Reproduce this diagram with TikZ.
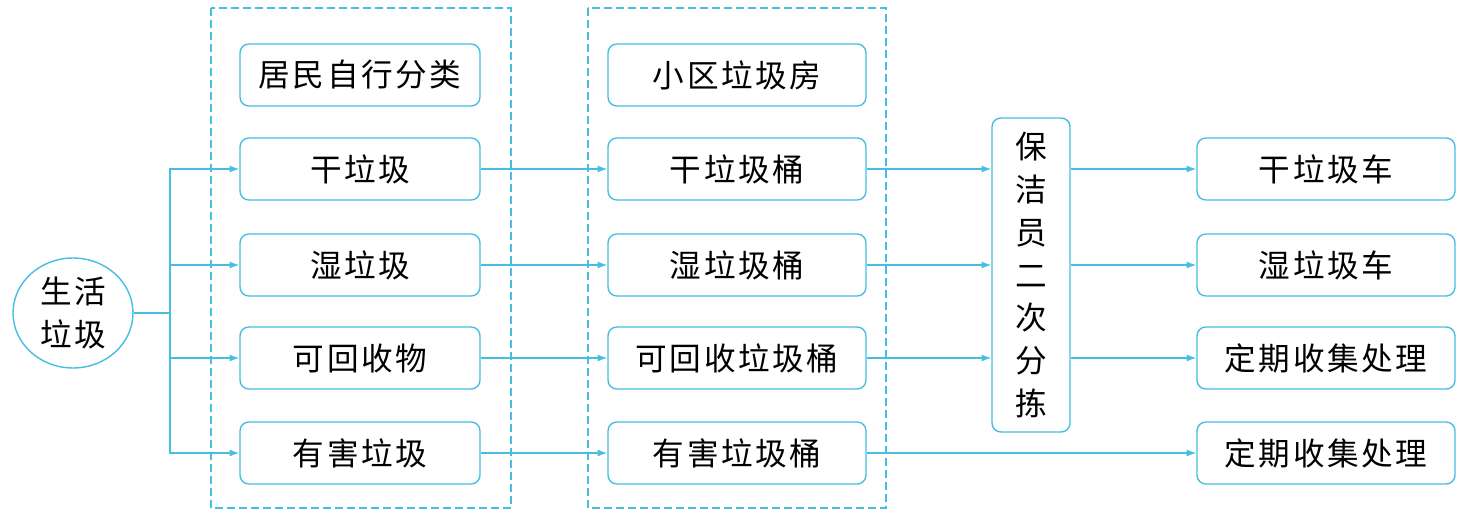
\documentclass[tikz,border=0pt]{standalone}
\usepackage{fontspec}
\setmainfont{Noto Sans CJK SC}[LetterSpace=8]
\usetikzlibrary{arrows.meta}
\usetikzlibrary{positioning, shapes.geometric}
\definecolor{lineblue}{RGB}{70,190,226}
\tikzset{
  >=latex,
  box/.style={draw=lineblue,line width=0.8pt,rounded corners=5pt,minimum height=1.24cm,inner sep=0pt,
    font=\fontsize{18}{20}\selectfont},
  box a/.style={box,minimum width=4.8cm},
  box b/.style={box,minimum width=5.16cm},
  group/.style={draw=lineblue,line width=0.6pt,dash pattern=on 1.6mm off 0.8mm},
  connect/.style={lineblue,line width=0.8pt},
  connect arrow/.style={-{Latex[length=5.5pt,width=4pt]},lineblue,line width=0.8pt}
}

\begin{document}
\begin{tikzpicture}[x=0.02cm,y=-0.02cm]
\useasboundingbox (0,0) rectangle (1470,513);
% the two dashed groups
\draw[group] (211,8) rectangle (511,508);
\draw[group] (588,8) rectangle (886,508);
%
\node[ellipse,draw=lineblue,line width=0.8pt,minimum width=2.4cm,minimum height=2.2cm,inner sep=0pt,
  align=center,font=\fontsize{18}{24}\selectfont] (S) at (73,313) {生活\\垃圾};
\node[box a] (H0) at (360,75) {居民自行分类};
\node[box b] (X0) at (737,75) {小区垃圾房};
\node[box,minimum width=1.56cm,minimum height=6.28cm,align=center,
  font=\fontsize{18}{24.4}\selectfont] (C) at (1031,275) {保\\洁\\员\\二\\次\\分\\拣};
\foreach \Y/\A/\B/\E [count=\i] in {169/干垃圾/干垃圾桶/干垃圾车,265/湿垃圾/湿垃圾桶/湿垃圾车,
  358/可回收物/可回收垃圾桶/定期收集处理,453/有害垃圾/有害垃圾桶/定期收集处理}
{
  \node[box a] (H\i) at (360,\Y) {\A};
  \node[box b] (X\i) at (737,\Y) {\B};
  \node[box b] (T\i) at (1326,\Y) {\E};
}
% branching from the circle
\coordinate (J) at (170,313);
\draw[connect] (S) -- (J);
\foreach \i in {1,2,3,4}
{\draw[connect arrow] (J) |- (H\i);
 \draw[connect arrow] (H\i) -- (X\i);}
\foreach \i in {1,2,3}
{\draw[connect arrow] (X\i.east) -- (X\i.east -| C.west);
 \draw[connect arrow] (T\i.west -| C.east) -- (T\i.west);}
\draw[connect arrow] (X4) -- (T4);
\end{tikzpicture}
\end{document}
